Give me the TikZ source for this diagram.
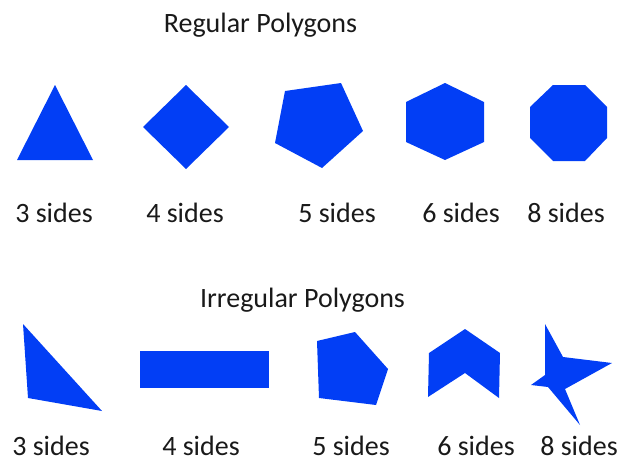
\documentclass[tikz,border=0pt]{standalone}
\usepackage{fontspec}
\setmainfont{Carlito}
\definecolor{polyblue}{RGB}{2,62,245}
\definecolor{txt}{RGB}{25,25,25}
\begin{document}
\begin{tikzpicture}[x=1pt,y=-1pt,
  poly/.style={fill=polyblue,draw=none},
  lbl/.style={anchor=base,inner sep=0pt,text=txt,font=\fontsize{28}{34}\selectfont}]
\useasboundingbox (0,0) rectangle (619,463);
% titles
\node[lbl] (t1) at (260.5,32) {Regular Polygons};
\node[lbl] (t2) at (302.5,307) {Irregular Polygons};
% regular polygons
\fill[poly] (17,160) -- (93,160) -- (55,85) -- cycle;
\fill[poly] (186,85) -- (229,127) -- (186,169) -- (143,127) -- cycle;
\fill[poly] (285,91) -- (341,83) -- (363,131) -- (322,168) -- (275,143) -- cycle;
\fill[poly] (445,83) -- (484,102) -- (484,142) -- (445,160) -- (406,142) -- (406,102) -- cycle;
\fill[poly] (553,85) -- (585,85) -- (607,107) -- (607,138) -- (585,161) -- (553,161) -- (530,138) -- (530,107) -- cycle;
% regular labels
\node[lbl] (r3) at (54,222) {3 sides};
\node[lbl] (r4) at (185,222) {4 sides};
\node[lbl] (r5) at (337,222) {5 sides};
\node[lbl] (r6) at (461,222) {6 sides};
\node[lbl] (r8) at (566,222) {8 sides};
% irregular polygons
\fill[poly] (23,324) -- (28,398) -- (102,411) -- cycle;
\fill[poly] (140,351) rectangle (269,388);
\fill[poly] (317,341) -- (355,332) -- (388,369) -- (376,405) -- (319,398) -- cycle;
\fill[poly] (429,353) -- (465,329) -- (500,353) -- (499,398) -- (465,373) -- (428,397) -- cycle;
\fill[poly] (545,324) -- (563,357) -- (612,363) -- (565,389) -- (580,425) -- (548,387) -- (531,385) -- (545,375) -- cycle;
% irregular labels
\node[lbl] (i3) at (51,455) {3 sides};
\node[lbl] (i4) at (201,455) {4 sides};
\node[lbl] (i5) at (351,455) {5 sides};
\node[lbl] (i6) at (476,455) {6 sides};
\node[lbl] (i8) at (579,455) {8 sides};
\end{tikzpicture}
\end{document}
